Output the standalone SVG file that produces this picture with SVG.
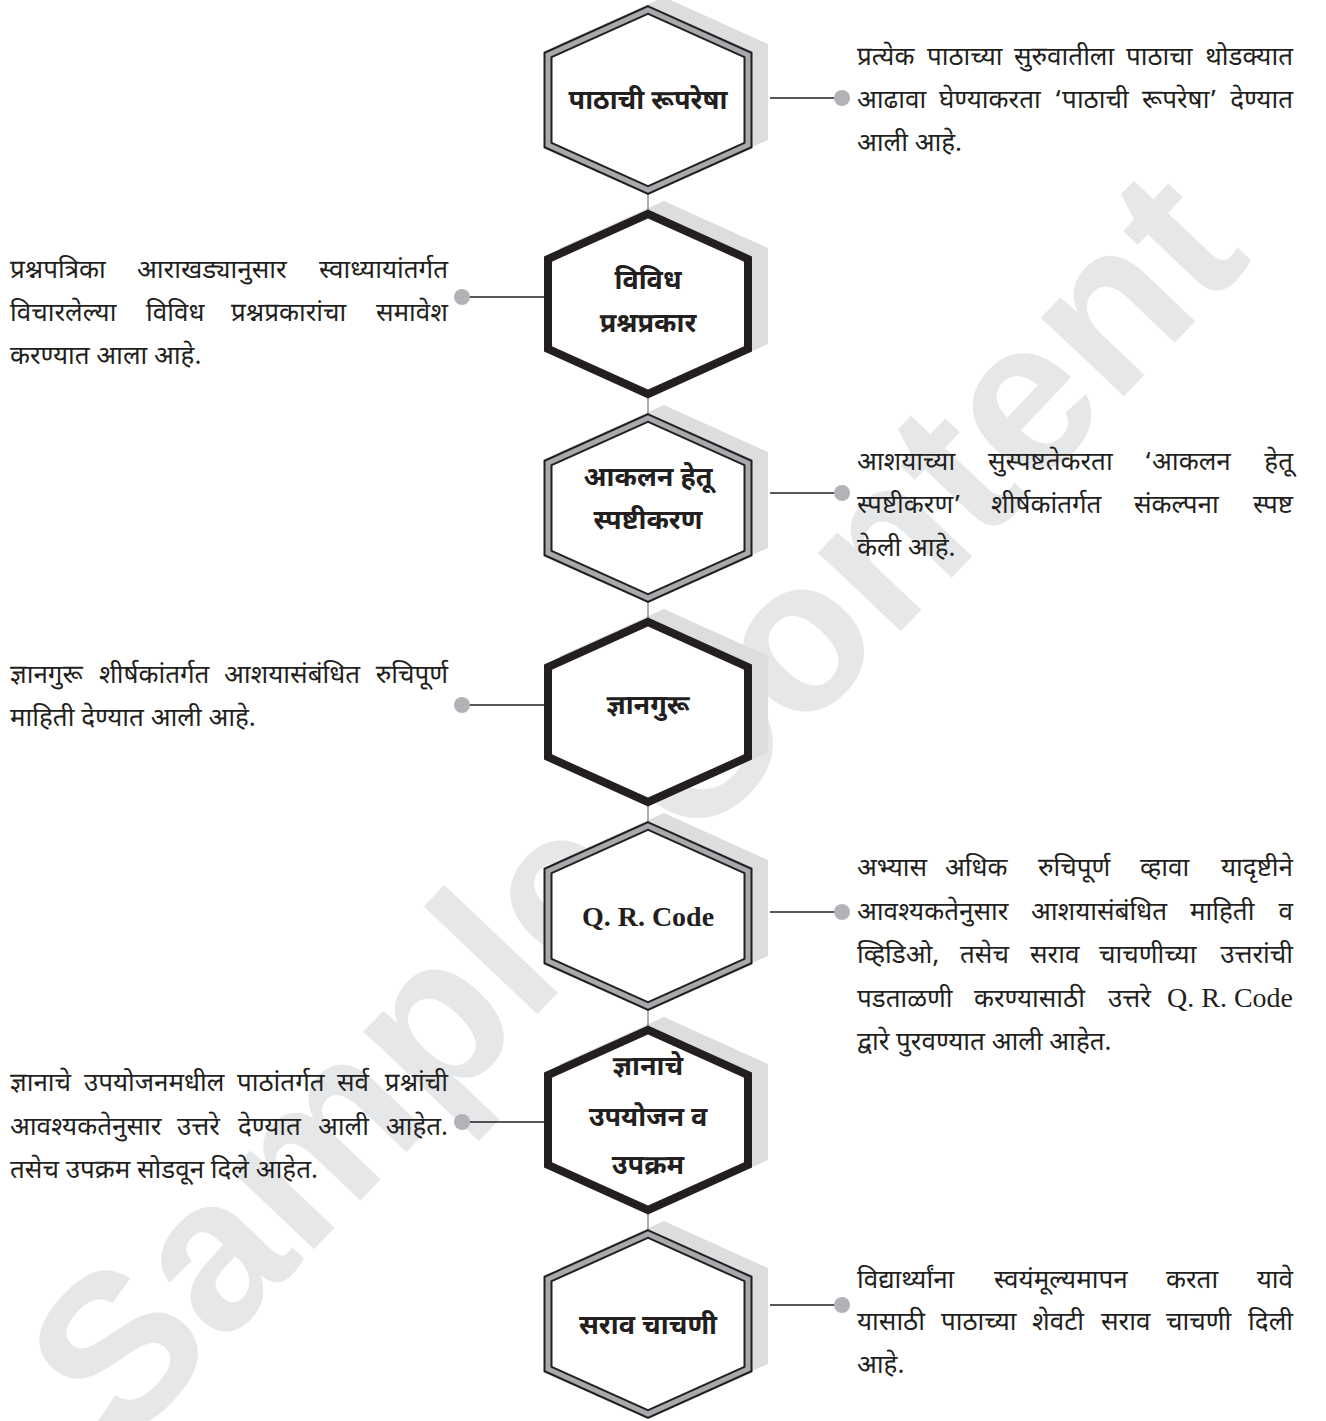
<svg xmlns="http://www.w3.org/2000/svg" xmlns:xlink="http://www.w3.org/1999/xlink" width="1326" height="1421" viewBox="0 0 1326 1421">
<style>
.bg{fill:#ffffff}
.wm{font-family:"Liberation Sans",Arial,sans-serif;font-weight:bold;font-size:216px;fill:#e6e7e8}
.shadow{fill:#dcddde}
.spine{stroke:#808285;stroke-width:1.3;fill:none}
.dbl-o{fill:#ffffff;stroke:#231f20;stroke-width:9}
.dbl-i{fill:none;stroke:#a7a9ac;stroke-width:5}
.thick{fill:#ffffff;stroke:#231f20;stroke-width:8}
.conn{stroke:#231f20;stroke-width:1.6;fill:none}
.dot{fill:#b1b3b6}
.body{font-family:"Noto Sans Devanagari","Lohit Devanagari","Noto Sans",sans-serif;font-size:26px;fill:#231f20}
.lbl{font-family:"Noto Sans Devanagari","Lohit Devanagari","Noto Sans",sans-serif;font-size:27px;font-weight:bold;fill:#231f20;text-anchor:middle}
.rom{font-family:"Liberation Serif","Times New Roman",serif}
.qr{font-family:"Liberation Serif","Times New Roman",serif;font-size:28px}
.e{text-anchor:end}
</style>
<defs>
<polygon id="hex" points="0,-90 100,-45 100,45 0,90 -100,45 -100,-45"/>
<polygon id="hexs" points="0,-95 104,-48 104,48 0,95 -104,48 -104,-48"/>
</defs>
<rect class="bg" x="0" y="0" width="1326" height="1421"/>
<text class="wm" transform="translate(122,1452) rotate(-46.5)">Sample Content</text>

<g id="shadows">
<use xlink:href="#hexs" class="shadow" transform="translate(664,92)"/>
<use xlink:href="#hexs" class="shadow" transform="translate(664,296)"/>
<use xlink:href="#hexs" class="shadow" transform="translate(664,500)"/>
<use xlink:href="#hexs" class="shadow" transform="translate(664,704)"/>
<use xlink:href="#hexs" class="shadow" transform="translate(664,908)"/>
<use xlink:href="#hexs" class="shadow" transform="translate(664,1112)"/>
<use xlink:href="#hexs" class="shadow" transform="translate(664,1316)"/>
</g>

<g id="connectors">
<line class="spine" x1="648" y1="100" x2="648" y2="1324"/>
<line class="conn" x1="770" y1="98" x2="840" y2="98"/>
<circle class="dot" cx="842" cy="98" r="8"/>
<line class="conn" x1="465" y1="297" x2="544" y2="297"/>
<circle class="dot" cx="462" cy="297" r="8"/>
<line class="conn" x1="770" y1="493" x2="840" y2="493"/>
<circle class="dot" cx="842" cy="493" r="8"/>
<line class="conn" x1="465" y1="705" x2="544" y2="705"/>
<circle class="dot" cx="462" cy="705" r="8"/>
<line class="conn" x1="770" y1="912" x2="840" y2="912"/>
<circle class="dot" cx="842" cy="912" r="8"/>
<line class="conn" x1="465" y1="1122" x2="544" y2="1122"/>
<circle class="dot" cx="462" cy="1122" r="8"/>
<line class="conn" x1="770" y1="1305" x2="840" y2="1305"/>
<circle class="dot" cx="842" cy="1305" r="8"/>
</g>

<g id="node1">
<use xlink:href="#hex" class="dbl-o" transform="translate(648,100)"/>
<use xlink:href="#hex" class="dbl-i" transform="translate(648,100)"/>
<text class="lbl" x="648" y="109">पाठाची रूपरेषा</text>
</g>
<g id="node2">
<use xlink:href="#hex" class="thick" transform="translate(648,304)"/>
<text class="lbl" x="648" y="289">विविध</text>
<text class="lbl" x="648" y="332">प्रश्नप्रकार</text>
</g>
<g id="node3">
<use xlink:href="#hex" class="dbl-o" transform="translate(648,508)"/>
<use xlink:href="#hex" class="dbl-i" transform="translate(648,508)"/>
<text class="lbl" x="648" y="486">आकलन हेतू</text>
<text class="lbl" x="648" y="529">स्पष्टीकरण</text>
</g>
<g id="node4">
<use xlink:href="#hex" class="thick" transform="translate(648,712)"/>
<text class="lbl" x="648" y="714">ज्ञानगुरू</text>
</g>
<g id="node5">
<use xlink:href="#hex" class="dbl-o" transform="translate(648,916)"/>
<use xlink:href="#hex" class="dbl-i" transform="translate(648,916)"/>
<text class="lbl rom" x="648" y="926" style="font-size:28px">Q. R. Code</text>
</g>
<g id="node6">
<use xlink:href="#hex" class="thick" transform="translate(648,1120)"/>
<text class="lbl" x="648" y="1075">ज्ञानाचे</text>
<text class="lbl" x="648" y="1126">उपयोजन व</text>
<text class="lbl" x="648" y="1174">उपक्रम</text>
</g>
<g id="node7">
<use xlink:href="#hex" class="dbl-o" transform="translate(648,1324)"/>
<use xlink:href="#hex" class="dbl-i" transform="translate(648,1324)"/>
<text class="lbl" x="648" y="1334">सराव चाचणी</text>
</g>

<g id="desc1">
<text class="body" y="65"><tspan x="857">प्रत्येक</tspan><tspan x="927">पाठाच्या</tspan><tspan x="1014">सुरुवातीला</tspan><tspan x="1126">पाठाचा</tspan><tspan x="1293" class="e">थोडक्यात</tspan></text>
<text class="body" y="108"><tspan x="857">आढावा</tspan><tspan x="939">घेण्याकरता</tspan><tspan x="1054">‘पाठाची</tspan><tspan x="1142">रूपरेषा’</tspan><tspan x="1293" class="e">देण्यात</tspan></text>
<text class="body" x="857" y="151">आली आहे.</text>
</g>
<g id="desc2">
<text class="body" y="278"><tspan x="10">प्रश्नपत्रिका</tspan><tspan x="137">आराखड्यानुसार</tspan><tspan x="448" class="e">स्वाध्यायांतर्गत</tspan></text>
<text class="body" y="321"><tspan x="10">विचारलेल्या</tspan><tspan x="146">विविध</tspan><tspan x="231">प्रश्नप्रकारांचा</tspan><tspan x="448" class="e">समावेश</tspan></text>
<text class="body" x="10" y="364">करण्यात आला आहे.</text>
</g>
<g id="desc3">
<text class="body" y="470"><tspan x="857">आशयाच्या</tspan><tspan x="988">सुस्पष्टतेकरता</tspan><tspan x="1144">‘आकलन</tspan><tspan x="1293" class="e">हेतू</tspan></text>
<text class="body" y="513"><tspan x="857">स्पष्टीकरण’</tspan><tspan x="991">शीर्षकांतर्गत</tspan><tspan x="1134">संकल्पना</tspan><tspan x="1293" class="e">स्पष्ट</tspan></text>
<text class="body" x="857" y="556">केली आहे.</text>
</g>
<g id="desc4">
<text class="body" y="683"><tspan x="10">ज्ञानगुरू</tspan><tspan x="99">शीर्षकांतर्गत</tspan><tspan x="224">आशयासंबंधित</tspan><tspan x="448" class="e">रुचिपूर्ण</tspan></text>
<text class="body" x="10" y="726">माहिती देण्यात आली आहे.</text>
</g>
<g id="desc5">
<text class="body" y="876"><tspan x="857">अभ्यास</tspan><tspan x="945">अधिक</tspan><tspan x="1038">रुचिपूर्ण</tspan><tspan x="1140">व्हावा</tspan><tspan x="1293" class="e">यादृष्टीने</tspan></text>
<text class="body" y="920"><tspan x="857">आवश्यकतेनुसार</tspan><tspan x="1031">आशयासंबंधित</tspan><tspan x="1190">माहिती</tspan><tspan x="1293" class="e">व</tspan></text>
<text class="body" y="963"><tspan x="857">व्हिडिओ,</tspan><tspan x="960">तसेच</tspan><tspan x="1030">सराव</tspan><tspan x="1099">चाचणीच्या</tspan><tspan x="1293" class="e">उत्तरांची</tspan></text>
<text class="body" y="1007"><tspan x="857">पडताळणी</tspan><tspan x="974">करण्यासाठी</tspan><tspan x="1108">उत्तरे</tspan><tspan x="1293" class="e qr">Q. R. Code</tspan></text>
<text class="body" x="857" y="1050">द्वारे पुरवण्यात आली आहेत.</text>
</g>
<g id="desc6">
<text class="body" y="1091"><tspan x="10">ज्ञानाचे</tspan><tspan x="84">उपयोजनमधील</tspan><tspan x="237">पाठांतर्गत</tspan><tspan x="337">सर्व</tspan><tspan x="448" class="e">प्रश्नांची</tspan></text>
<text class="body" y="1135"><tspan x="10">आवश्यकतेनुसार</tspan><tspan x="177">उत्तरे</tspan><tspan x="238">देण्यात</tspan><tspan x="318">आली</tspan><tspan x="448" class="e">आहेत.</tspan></text>
<text class="body" x="10" y="1178">तसेच उपक्रम सोडवून दिले आहेत.</text>
</g>
<g id="desc7">
<text class="body" y="1288"><tspan x="857">विद्यार्थ्यांना</tspan><tspan x="994">स्वयंमूल्यमापन</tspan><tspan x="1166">करता</tspan><tspan x="1293" class="e">यावे</tspan></text>
<text class="body" y="1330"><tspan x="857">यासाठी</tspan><tspan x="941">पाठाच्या</tspan><tspan x="1032">शेवटी</tspan><tspan x="1101">सराव</tspan><tspan x="1166">चाचणी</tspan><tspan x="1293" class="e">दिली</tspan></text>
<text class="body" x="857" y="1373">आहे.</text>
</g>
</svg>
